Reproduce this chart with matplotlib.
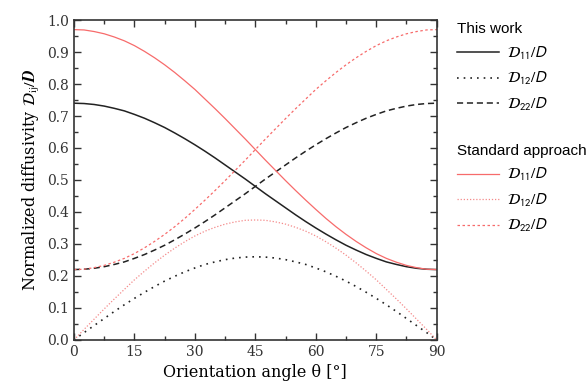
import matplotlib
matplotlib.use('Agg')
import matplotlib.pyplot as plt
from matplotlib.ticker import MultipleLocator

# orientation angle (deg) and values
theta = [0, 2.5, 5, 7.5, 10, 12.5, 15, 17.5, 20, 22.5, 25, 27.5, 30, 32.5, 35, 37.5,
         40, 42.5, 45, 47.5, 50, 52.5, 55, 57.5, 60, 62.5, 65, 67.5, 70, 72.5, 75,
         77.5, 80, 82.5, 85, 87.5, 90]

this_11 = [0.740, 0.739, 0.736, 0.731, 0.724, 0.716, 0.705, 0.693, 0.679, 0.664,
           0.647, 0.629, 0.610, 0.590, 0.569, 0.547, 0.525, 0.503, 0.480, 0.457,
           0.435, 0.413, 0.391, 0.370, 0.350, 0.331, 0.313, 0.296, 0.281, 0.267,
           0.255, 0.244, 0.236, 0.229, 0.224, 0.221, 0.220]
this_12 = [0.000, 0.023, 0.045, 0.067, 0.089, 0.110, 0.130, 0.149, 0.167, 0.184,
           0.199, 0.213, 0.225, 0.236, 0.244, 0.251, 0.256, 0.259, 0.260, 0.259,
           0.256, 0.251, 0.244, 0.236, 0.225, 0.213, 0.199, 0.184, 0.167, 0.149,
           0.130, 0.110, 0.089, 0.067, 0.045, 0.023, 0.000]
this_22 = this_11[::-1]

std_11 = [0.970, 0.969, 0.964, 0.957, 0.947, 0.935, 0.920, 0.902, 0.882, 0.860,
          0.836, 0.810, 0.783, 0.753, 0.723, 0.692, 0.660, 0.628, 0.595, 0.562,
          0.530, 0.498, 0.467, 0.437, 0.408, 0.380, 0.354, 0.330, 0.308, 0.288,
          0.270, 0.255, 0.243, 0.233, 0.226, 0.221, 0.220]
std_12 = [0.000, 0.033, 0.065, 0.097, 0.128, 0.158, 0.188, 0.215, 0.241, 0.265,
          0.287, 0.307, 0.325, 0.340, 0.352, 0.362, 0.369, 0.374, 0.375, 0.374,
          0.369, 0.362, 0.352, 0.340, 0.325, 0.307, 0.287, 0.265, 0.241, 0.215,
          0.188, 0.158, 0.128, 0.097, 0.065, 0.033, 0.000]
std_22 = std_11[::-1]

labels = [r'$\mathcal{D}_{11}/D$', r'$\mathcal{D}_{12}/D$', r'$\mathcal{D}_{22}/D$']

plt.rcParams['mathtext.fontset'] = 'stixsans'

fig = plt.figure(figsize=(5.87, 3.85), dpi=100)
ax = fig.add_axes([0.126, 0.117, 0.618, 0.831])

red = '#f76b6b'
h1 = ax.plot(theta, this_11, color='#222222', lw=1.1, ls='-')[0]
h2 = ax.plot(theta, this_12, color='#222222', lw=1.2, ls=(0, (1, 3)))[0]
h3 = ax.plot(theta, this_22, color='#222222', lw=1.1, ls=(0, (4, 2.5)))[0]
r1 = ax.plot(theta, std_11, color=red, lw=0.9, ls='-')[0]
r2 = ax.plot(theta, std_12, color='#f48a8a', lw=0.9, ls=(0, (1, 1.5)))[0]
r3 = ax.plot(theta, std_22, color=red, lw=0.9, ls=(0, (2, 2)))[0]

ax.set_xlim(0, 90)
ax.set_ylim(0, 1.0)
ax.xaxis.set_major_locator(MultipleLocator(15))
ax.xaxis.set_minor_locator(MultipleLocator(7.5))
ax.yaxis.set_major_locator(MultipleLocator(0.1))
ax.yaxis.set_minor_locator(MultipleLocator(0.05))
ax.tick_params(which='both', direction='in', top=True, right=True,
               labelsize=10, width=1.0, colors='#333333')
ax.tick_params(which='major', length=5)
ax.tick_params(which='minor', length=3)
for lab in ax.get_xticklabels() + ax.get_yticklabels():
    lab.set_family('DejaVu Serif')
ax.yaxis.set_major_formatter(plt.FormatStrFormatter('%.1f'))
for s in ax.spines.values():
    s.set_linewidth(1.2)
    s.set_color('#333333')

ax.set_xlabel('Orientation angle θ [°]', family='DejaVu Serif', fontsize=11.5)
ax.set_ylabel(r'Normalized diffusivity $\mathcal{D}_{\rm ij}/\boldsymbol{D}$',
              family='DejaVu Serif', fontsize=11.5, math_fontfamily='stix')

leg1 = fig.legend([h1, h2, h3], labels, title='This work', loc='upper left',
                  bbox_to_anchor=(0.765, 0.962), frameon=False, fontsize=11,
                  title_fontsize=11, alignment='left', handlelength=2.8,
                  labelspacing=0.55, borderpad=0, handletextpad=0.5)
leg2 = fig.legend([r1, r2, r3], labels, title='Standard approach', loc='upper left',
                  bbox_to_anchor=(0.765, 0.646), frameon=False, fontsize=11,
                  title_fontsize=11, alignment='left', handlelength=2.8,
                  labelspacing=0.55, borderpad=0, handletextpad=0.5)
for lg in (leg1, leg2):
    lg.get_title().set_family('Liberation Sans')

fig.savefig('out.png', dpi=100)
